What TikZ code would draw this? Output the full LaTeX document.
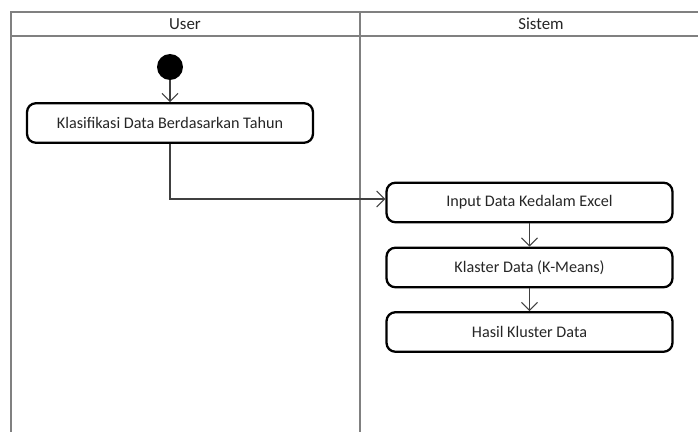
\documentclass[tikz,border=0pt]{standalone}
\usepackage{fontspec}
\setmainfont{Carlito}
\usetikzlibrary{arrows.meta,positioning,calc}

\begin{document}
\begin{tikzpicture}[x=0.02cm,y=-0.02cm,
  lane/.style={draw=black!50,line width=1.2pt},
  act/.style={draw,rounded corners=5pt,line width=1.3pt,minimum width=5.72cm,minimum height=0.79cm,font=\fontsize{9.2}{11}\selectfont,text=black!85},
  flow/.style={draw=black!75,line width=0.6pt,-{Straight Barb[length=1.6mm,width=3.2mm]}},
  head/.style={font=\fontsize{9.6}{11}\selectfont,text=black!85}]
\useasboundingbox (0,0) rectangle (698,432);
% swimlanes
\draw[lane] (11,432)--(11,12)--(698,12);
\draw[lane] (11,36)--(698,36);
\draw[lane] (360,12)--(360,432);
\node[head] (user) at (185,24) {User};
\node[head] (sistem) at (541,24) {Sistem};
% activities
\node[circle,fill=black,minimum size=0.52cm,inner sep=0pt] (start) at (170,67) {};
\node[act] (klas) at (170,123) {Klasifikasi Data Berdasarkan Tahun};
\node[act] (input) at (529.5,202.5) {Input Data Kedalam Excel};
\node[act] (klaster) at (529.5,267.5) {Klaster Data (K-Means)};
\node[act] (hasil) at (529.5,332) {Hasil Kluster Data};
\draw[flow] (start)--(klas);
\draw[flow] (klas.south) |- ([yshift=2pt]input.west);
\draw[flow] (input)--(klaster);
\draw[flow] (klaster)--(hasil);
\end{tikzpicture}
\end{document}
